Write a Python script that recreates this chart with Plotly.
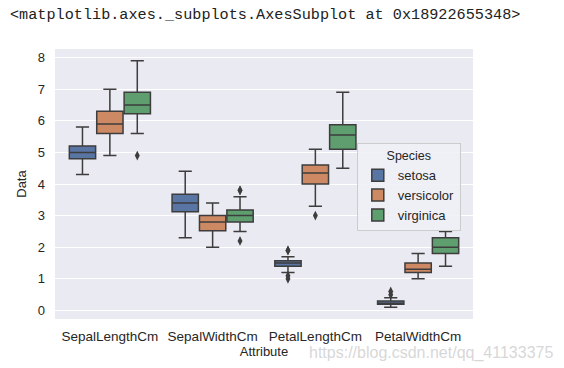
import plotly.graph_objects as go

attributes = ["SepalLengthCm", "SepalWidthCm", "PetalLengthCm", "PetalWidthCm"]
species = ["setosa", "versicolor", "virginica"]
colors = ["#5975a4", "#cc8963", "#5f9e6e"]

# per species: values for each attribute
q1 = {
    "setosa": [4.8, 3.125, 1.4, 0.2],
    "versicolor": [5.6, 2.525, 4.0, 1.2],
    "virginica": [6.225, 2.8, 5.1, 1.8],
}
median = {
    "setosa": [5.0, 3.4, 1.5, 0.2],
    "versicolor": [5.9, 2.8, 4.35, 1.3],
    "virginica": [6.5, 3.0, 5.55, 2.0],
}
q3 = {
    "setosa": [5.2, 3.675, 1.575, 0.3],
    "versicolor": [6.3, 3.0, 4.6, 1.5],
    "virginica": [6.9, 3.175, 5.875, 2.3],
}
lower_whisker = {
    "setosa": [4.3, 2.3, 1.2, 0.1],
    "versicolor": [4.9, 2.0, 3.3, 1.0],
    "virginica": [5.6, 2.5, 4.5, 1.4],
}
upper_whisker = {
    "setosa": [5.8, 4.4, 1.7, 0.4],
    "versicolor": [7.0, 3.4, 5.1, 1.8],
    "virginica": [7.9, 3.6, 6.9, 2.5],
}
outliers = {
    "setosa": [[], [], [1.0, 1.1, 1.9, 1.9], [0.5, 0.6]],
    "versicolor": [[], [], [3.0], []],
    "virginica": [[4.9], [2.2, 3.8, 3.8], [], []],
}

edge = "#3d3d3d"
fig = go.Figure()
for sp, col in zip(species, colors):
    # sample per box: the median (hidden, inside the box) plus the outliers
    samples = [[m] + outs for m, outs in zip(median[sp], outliers[sp])]
    fig.add_trace(go.Box(
        name=sp,
        x=attributes,
        y=samples,
        q1=q1[sp], median=median[sp], q3=q3[sp],
        lowerfence=lower_whisker[sp], upperfence=upper_whisker[sp],
        boxpoints="outliers",
        fillcolor=col,
        line=dict(color=edge, width=1.5),
        whiskerwidth=0.5,
        marker=dict(symbol="diamond-tall", size=7, color=edge,
                    line=dict(width=0)),
    ))

fig.update_layout(
    width=564, height=368,
    margin=dict(l=55, r=91, t=49, b=49, autoexpand=False),
    paper_bgcolor="white",
    plot_bgcolor="#eaeaf2",
    boxmode="group",
    boxgap=0.2,
    boxgroupgap=0.04,
    font=dict(family="Liberation Sans, Arial, sans-serif", size=12, color="#262626"),
    xaxis=dict(
        title=dict(text="Attribute", standoff=4, font=dict(size=13)),
        showgrid=False, zeroline=False, ticks="",
        ticklabelstandoff=7,
        tickfont=dict(size=13.5),
        automargin=False,
    ),
    yaxis=dict(
        title=dict(text="Data", standoff=8, font=dict(size=13)),
        range=[-0.27, 8.27],
        tickmode="array", tickvals=list(range(0, 9)),
        gridcolor="white", gridwidth=1.2,
        zeroline=False, ticks="",
        ticklabelstandoff=9,
        tickfont=dict(size=13),
        automargin=False,
    ),
    legend=dict(
        title=dict(text="Species", side="top center", font=dict(size=12.5)),
        x=0.722, y=0.652, xanchor="left", yanchor="top",
        bgcolor="rgba(240,240,246,0.9)",
        bordercolor="#cccccc", borderwidth=1,
        font=dict(size=13),
        itemwidth=30,
        tracegroupgap=0,
    ),
    showlegend=True,
)

fig.add_annotation(
    text="<matplotlib.axes._subplots.AxesSubplot at 0x18922655348>",
    xref="paper", yref="paper", x=-0.112, y=1.125,
    xanchor="left", yanchor="middle", showarrow=False,
    font=dict(family="Liberation Mono, monospace", size=15.2, color="#222222"),
)
fig.add_annotation(
    text="https://blog.csdn.net/qq_41133375",
    xref="paper", yref="paper", x=1.195, y=-0.127,
    xanchor="right", yanchor="middle", showarrow=False,
    font=dict(size=16, color="rgba(205,205,205,0.8)"),
)

fig.write_html("out.html", post_script="document.body.style.margin='0';",
               config={"displayModeBar": False})
